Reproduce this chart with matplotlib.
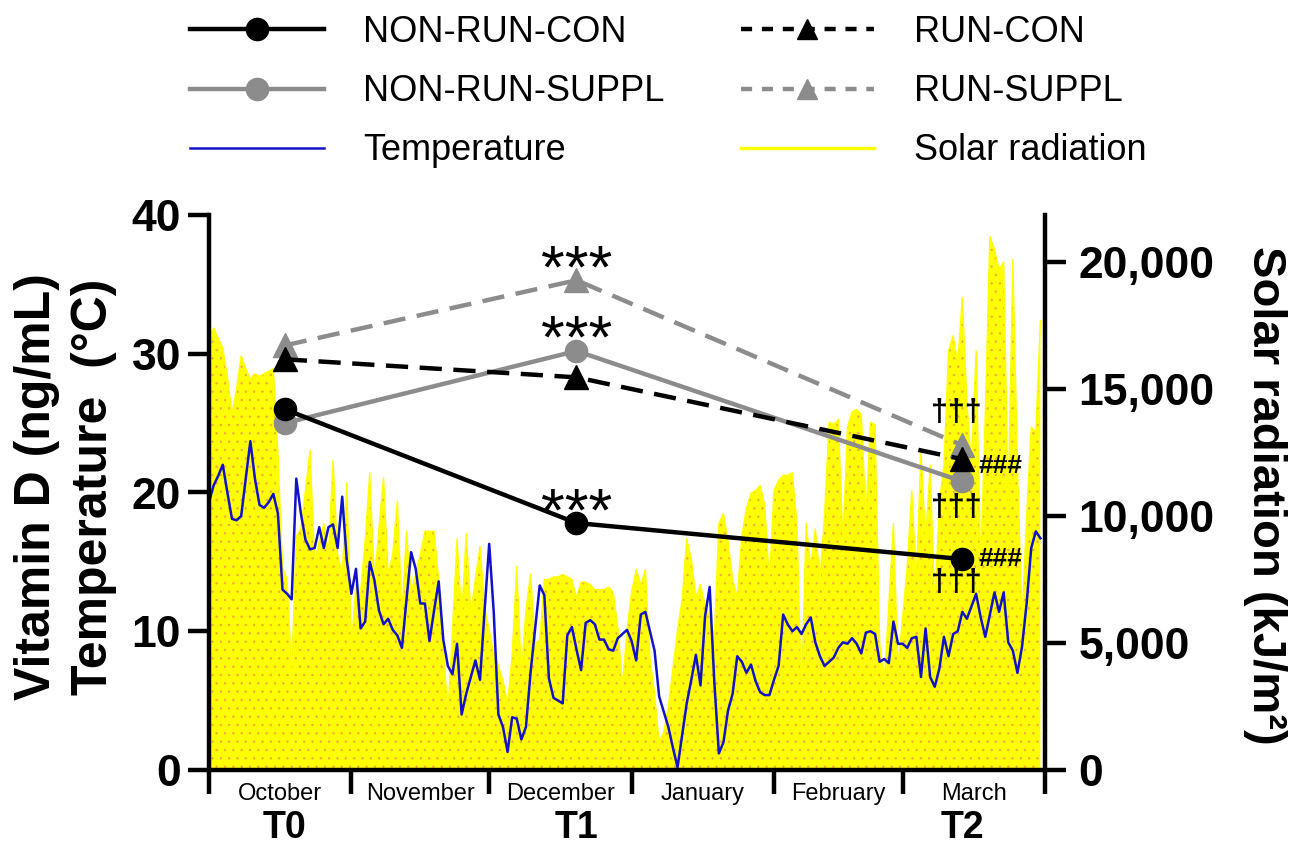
import matplotlib
matplotlib.use("Agg")
import matplotlib.pyplot as plt
from matplotlib.lines import Line2D
from matplotlib.ticker import FuncFormatter
import numpy as np

plt.rcParams['font.family'] = ['Liberation Sans', 'DejaVu Sans']
plt.rcParams['hatch.color'] = '#F0A83E'
plt.rcParams['hatch.linewidth'] = 0.5

# Serum vitamin D at the three sampling points (ng/mL)
timepoints = ['T0', 'T1', 'T2']
timepoint_day = [16.5, 80, 164]          # days after 1 October
non_run_con = [26.0, 17.8, 15.2]
non_run_suppl = [25.0, 30.2, 20.8]
run_con = [29.6, 28.3, 22.4]
run_suppl = [30.6, 35.3, 23.4]

months = ['October', 'November', 'December', 'January', 'February', 'March']
month_days = [31, 30, 31, 31, 28, 31]

# Daily mean air temperature (°C), 1 October - 31 March
temperature = [
    19.3, 20.5, 21.2, 22.0, 20.0, 18.1, 18.0, 18.3, 21.0, 23.7,
    21.0, 19.1, 18.9, 19.3, 19.9, 18.5, 13.0, 12.7, 12.3, 21.0,
    18.5, 16.6, 15.9, 16.0, 17.5, 16.0, 17.5, 17.7, 16.0, 19.7,
    15.1, 12.7, 14.5, 10.2, 10.7, 15.0, 13.7, 11.5, 10.5, 10.9,
    10.1, 9.7, 8.8, 12.3, 15.7, 14.5, 12.0, 12.0, 9.3, 11.5,
    13.6, 9.4, 7.5, 6.9, 9.1, 4.0, 5.5, 6.7, 7.9, 6.5,
    11.5, 16.3, 11.3, 4.0, 3.1, 1.3, 3.8, 3.7, 2.2, 3.1,
    7.0, 10.2, 13.3, 12.6, 6.6, 5.2, 5.0, 4.8, 9.7, 10.3,
    8.7, 7.2, 10.6, 10.8, 10.5, 9.4, 9.4, 8.7, 8.6, 9.5,
    9.8, 10.1, 9.3, 7.9, 11.2, 11.4, 10.0, 8.6, 5.3, 4.2,
    3.1, 1.6, 0.2, 2.5, 4.8, 6.5, 8.3, 6.1, 11.1, 13.2,
    6.4, 1.2, 2.0, 4.3, 5.5, 8.2, 7.8, 7.0, 7.6, 6.4,
    5.6, 5.4, 5.4, 6.5, 7.5, 11.2, 10.5, 10.0, 10.3, 9.8,
    10.5, 11.0, 9.2, 8.2, 7.5, 7.8, 8.1, 8.8, 9.2, 9.1,
    9.5, 9.1, 8.4, 9.9, 10.0, 9.8, 7.8, 8.0, 7.7, 10.7,
    9.1, 9.1, 8.8, 9.5, 9.6, 6.7, 10.2, 6.7, 6.0, 7.3,
    9.6, 8.2, 9.8, 10.0, 11.4, 10.9, 11.8, 12.7, 11.0, 9.6,
    11.2, 12.8, 11.4, 12.8, 9.2, 8.6, 7.0, 8.9, 12.0, 16.0,
    17.2, 16.7,
]

# Daily global solar radiation (kJ/m2)
solar_radiation = [
    17000, 17400, 17000, 16600, 15500, 14000, 15000, 16300, 15800, 15400,
    15600, 15500, 15600, 15700, 15800, 12500, 8000, 7500, 3800, 9200,
    9500, 11000, 12600, 8200, 9000, 9700, 8500, 12200, 8500, 7700,
    11300, 4900, 7300, 7000, 9000, 11700, 7500, 9500, 11500, 7700,
    8500, 10600, 6200, 9400, 7000, 7700, 8500, 9400, 9400, 9400,
    7500, 4900, 2200, 5500, 9100, 6000, 9300, 6200, 7500, 8800,
    6400, 5500, 4600, 4100, 3500, 2600, 4500, 8000, 3800, 6300,
    7700, 5000, 5100, 7500, 7500, 7600, 7600, 7700, 7600, 7500,
    6800, 7400, 7400, 7300, 7100, 7100, 7100, 7200, 7000, 5600,
    3300, 5500, 7000, 7900, 7300, 7900, 4400, 3000, 1100, 1500,
    2500, 4000, 5500, 6700, 9100, 8300, 6800, 7300, 6500, 6000,
    5200, 9700, 10100, 9000, 7500, 6800, 9200, 10300, 10900, 11000,
    11200, 10400, 7400, 11000, 11400, 11600, 11600, 11700, 9700, 2900,
    9700, 8000, 9500, 7500, 10000, 13700, 13600, 13800, 9000, 13500,
    14100, 14200, 14000, 10000, 13700, 13600, 5000, 3500, 6500, 9700,
    4000, 6000, 8000, 11000, 7500, 12600, 9000, 12000, 6500, 10500,
    12000, 16500, 17100, 16000, 18600, 14500, 12000, 16500, 8000, 14000,
    21000, 20500, 19700, 20000, 10500, 20100, 12000, 5900, 10000, 13500,
    13300, 17700,
]

GRAY = '#8C8C8C'
BLUE = '#1212C8'
YELLOW = '#FFFF00'
LW = 3.2
MS = 16

fig = plt.figure(figsize=(13.03, 8.47), dpi=100)
ax = fig.add_axes([209 / 1303, 77 / 847, 836 / 1303, 555 / 847])
ax2 = ax.twinx()
ax.set_zorder(ax2.get_zorder() + 1)
ax.patch.set_visible(False)

days = np.arange(len(temperature))
bounds = np.concatenate([[0], np.cumsum(month_days)])

# solar radiation as a dotted yellow area on the right axis
ax2.fill_between(days, solar_radiation, 0, facecolor=YELLOW, hatch='..',
                 linewidth=0, zorder=1)
ax2.plot(days, solar_radiation, color=YELLOW, lw=1.0, zorder=2)
ax2.set_ylim(0, 21850)

# temperature and vitamin D on the left axis
ax.plot(days, temperature, color=BLUE, lw=1.8, zorder=2)
ax.plot(timepoint_day, run_suppl, color=GRAY, lw=LW, ls=(0, (5, 2.6)),
        marker='^', ms=MS + 1, zorder=3)
ax.plot(timepoint_day, non_run_suppl, color=GRAY, lw=LW, marker='o', ms=MS,
        zorder=4)
ax.plot(timepoint_day, run_con, color='black', lw=LW, ls=(0, (5, 2.6)),
        marker='^', ms=MS + 1, zorder=5)
ax.plot(timepoint_day, non_run_con, color='black', lw=LW, marker='o', ms=MS,
        zorder=6)

ax.set_xlim(0, bounds[-1])
ax.set_ylim(0, 40)

# significance marks
for series in (run_suppl, non_run_suppl, non_run_con):
    ax.annotate('***', (timepoint_day[1], series[1]), xytext=(0, -5),
                textcoords='offset points', ha='center', va='baseline',
                fontsize=44)
dag_kw = dict(textcoords='offset points', ha='center', va='center',
              fontsize=22, fontweight='bold')
ax.annotate('†††', (timepoint_day[2], run_suppl[2]), xytext=(-4, 23), **dag_kw)
ax.annotate('†††', (timepoint_day[2], non_run_suppl[2]), xytext=(-4, -19), **dag_kw)
ax.annotate('†††', (timepoint_day[2], non_run_con[2]), xytext=(-4, -17), **dag_kw)
hash_kw = dict(textcoords='offset points', ha='left', va='center',
               fontsize=19, fontweight='bold')
ax.annotate('###', (timepoint_day[2], run_con[2]), xytext=(12, -5), **hash_kw)
ax.annotate('###', (timepoint_day[2], non_run_con[2]), xytext=(12, 0), **hash_kw)

# axes styling
for s in ('top', 'right'):
    ax.spines[s].set_visible(False)
for s in ('top', 'left', 'bottom'):
    ax2.spines[s].set_visible(False)
for sp in (ax.spines['left'], ax.spines['bottom'], ax2.spines['right']):
    sp.set_linewidth(LW)

ax.set_xticks(bounds)
ax.set_xticklabels([])
ax.tick_params(axis='x', length=17, width=LW, direction='out')
ax.set_yticks([0, 10, 20, 30, 40])
ax.tick_params(axis='y', length=15, width=LW, labelsize=32, pad=5)
ax2.set_yticks([0, 5000, 10000, 15000, 20000])
ax2.yaxis.set_major_formatter(FuncFormatter(lambda v, p: f'{v:,.0f}'))
ax2.tick_params(axis='y', length=15, width=LW, labelsize=32, pad=9)
for lbl in ax.get_yticklabels() + ax2.get_yticklabels():
    lbl.set_fontweight('bold')

for i, name in enumerate(months):
    mid = (bounds[i] + bounds[i + 1]) / 2
    ax.annotate(name, (mid, 0), xycoords=('data', 'axes fraction'),
                xytext=(0, -17), textcoords='offset points',
                ha='center', va='center', fontsize=17)
for d, name in zip(timepoint_day, timepoints):
    ax.annotate(name, (d, 0), xycoords=('data', 'axes fraction'),
                xytext=(0, -42), textcoords='offset points',
                ha='center', va='center', fontsize=27, fontweight='bold')

ax.set_ylabel('Vitamin D (ng/mL)\nTemperature  (°C)', fontsize=36,
              fontweight='bold', va='center', linespacing=1.3)
ax.yaxis.set_label_coords(-0.172, 0.51)
ax2.set_ylabel('Solar radiation (kJ/m²)', fontsize=34, fontweight='bold',
               rotation=-90, va='center')
ax2.yaxis.set_label_coords(1.263, 0.495)

# legend
handles = [
    Line2D([], [], color='black', lw=LW, marker='o', ms=MS),
    Line2D([], [], color=GRAY, lw=LW, marker='o', ms=MS),
    Line2D([], [], color=BLUE, lw=1.8),
    Line2D([], [], color='black', lw=LW, ls=(0, (2.5, 2.2)), marker='^', ms=15),
    Line2D([], [], color=GRAY, lw=LW, ls=(0, (2.5, 2.2)), marker='^', ms=15),
    Line2D([], [], color=YELLOW, lw=2.5),
]
labels = ['NON-RUN-CON', 'NON-RUN-SUPPL', 'Temperature',
          'RUN-CON', 'RUN-SUPPL', 'Solar radiation']
fig.legend(handles, labels, ncol=2, loc='upper left',
           bbox_to_anchor=(190 / 1303, 1 - 15 / 847), frameon=False,
           fontsize=26, handlelength=3.7, handletextpad=1.1,
           columnspacing=2.1, labelspacing=0.67, borderpad=0,
           borderaxespad=0)

fig.savefig('out.png', dpi=100)
